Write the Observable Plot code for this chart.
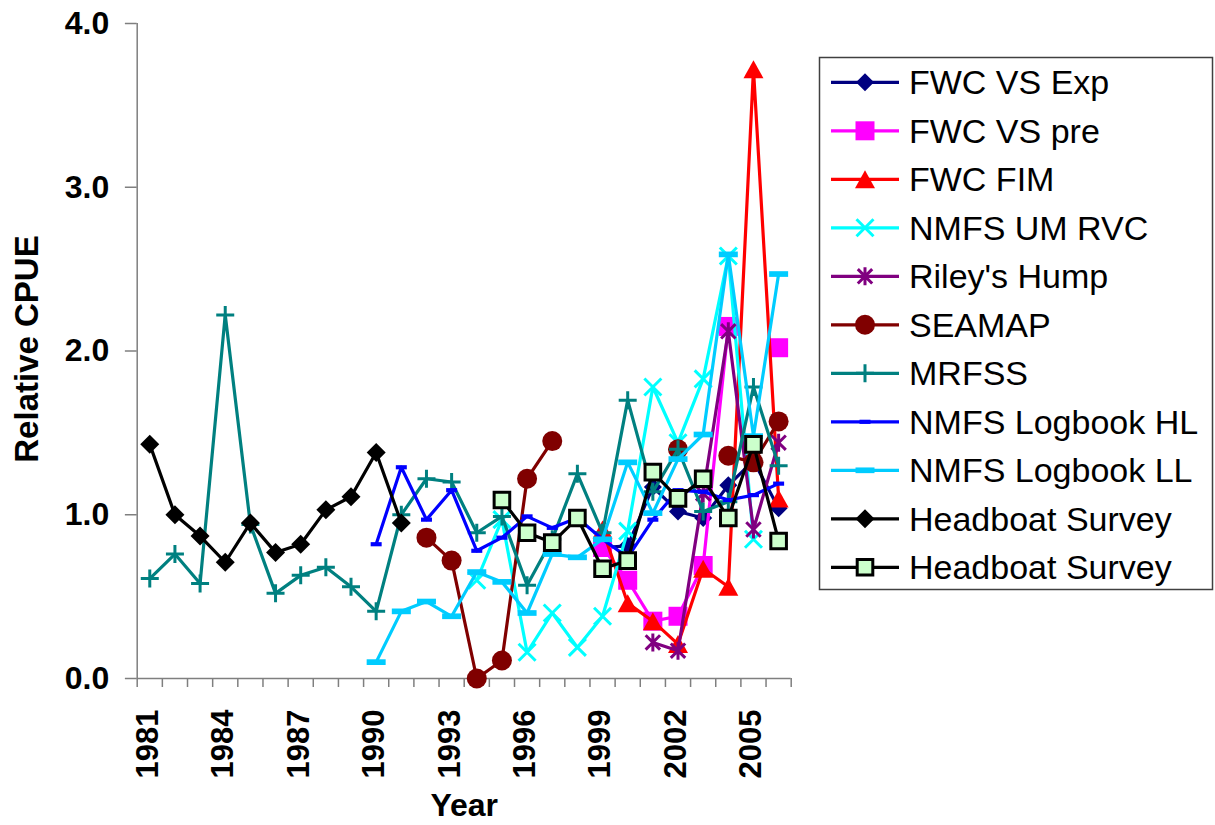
<!DOCTYPE html>
<html><head><meta charset="utf-8">
<script src="https://cdn.jsdelivr.net/npm/d3@7"></script>
<script src="https://cdn.jsdelivr.net/npm/@observablehq/plot@0.6"></script>
<style>body{margin:0;background:#fff} svg{display:block}</style>
</head><body><div id="chart"></div>
<script>
const years = [1981,1982,1983,1984,1985,1986,1987,1988,1989,1990,1991,1992,1993,1994,1995,1996,1997,1998,1999,2000,2001,2002,2003,2004,2005,2006];
const yearLabels = [1981,1984,1987,1990,1993,1996,1999,2002,2005];
const yTicks = [0,1,2,3,4];
const seriesNames = ["FWC VS Exp","FWC VS pre","FWC FIM","NMFS UM RVC","Riley's Hump","SEAMAP","MRFSS","NMFS Logbook HL","NMFS Logbook LL","Headboat Survey","Headboat Survey"];
const N = null;
const fwcVsExp = [N,N,N,N,N,N,N,N,N,N,N,N,N,N,N,N,N,N,0.80,0.81,1.17,1.02,0.98,1.18,1.33,1.04];
const fwcVsPre = [N,N,N,N,N,N,N,N,N,N,N,N,N,N,N,N,N,N,0.80,0.60,0.35,0.38,0.69,2.15,N,2.02];
const fwcFim   = [N,N,N,N,N,N,N,N,N,N,N,N,N,N,N,N,N,N,0.91,0.46,0.35,0.21,0.67,0.56,3.72,1.10];
const nmfsRvc  = [N,N,N,N,N,N,N,N,N,N,N,N,N,0.60,0.97,0.16,0.40,0.19,0.38,0.90,1.78,1.44,1.83,2.58,0.85,N];
const rileys   = [N,N,N,N,N,N,N,N,N,N,N,N,N,N,N,N,N,N,N,N,0.22,0.17,1.13,2.12,0.91,1.44];
const seamap   = [N,N,N,N,N,N,N,N,N,N,N,0.86,0.72,0.00,0.11,1.22,1.45,N,N,N,N,1.40,N,1.36,1.32,1.57];
const mrfss    = [0.61,0.76,0.58,2.22,0.94,0.52,0.63,0.68,0.56,0.41,1.00,1.22,1.20,0.89,0.99,0.57,0.85,1.25,0.89,1.70,1.14,1.40,1.02,1.08,1.78,1.30];
const logHL    = [N,N,N,N,N,N,N,N,N,0.82,1.29,0.97,1.15,0.78,0.86,0.99,0.92,0.98,0.85,0.74,0.97,1.15,1.14,1.09,1.12,1.19];
const logLL    = [N,N,N,N,N,N,N,N,N,0.10,0.41,0.47,0.38,0.65,0.59,0.40,0.76,0.74,0.85,1.32,1.01,1.34,1.49,2.59,1.48,2.47];
const headboat = [1.43,1.00,0.87,0.71,0.95,0.77,0.82,1.03,1.11,1.38,0.95,N,N,N,N,N,N,N,N,N,N,N,N,N,N,N];
const headboat2= [N,N,N,N,N,N,N,N,N,N,N,N,N,N,1.09,0.89,0.83,0.98,0.67,0.72,1.26,1.10,1.22,0.98,1.43,0.84];

// custom marker shapes (size = pi*r^2)
function sym(fn){ return {draw(c, size){ const r = Math.sqrt(size/Math.PI); fn(c, r); }}; }
const diamondSym = sym((c,r)=>{c.moveTo(0,-r);c.lineTo(r,0);c.lineTo(0,r);c.lineTo(-r,0);c.closePath();});
const squareSym = sym((c,r)=>{c.moveTo(-r,-r);c.lineTo(r,-r);c.lineTo(r,r);c.lineTo(-r,r);c.closePath();});
const triangleSym = sym((c,r)=>{c.moveTo(0,-0.9*r);c.lineTo(r,0.9*r);c.lineTo(-r,0.9*r);c.closePath();});
const timesSym = sym((c,r)=>{c.moveTo(-r,-r);c.lineTo(r,r);c.moveTo(r,-r);c.lineTo(-r,r);});
const asteriskSym = sym((c,r)=>{const a=r*0.8;c.moveTo(-a,-a);c.lineTo(a,a);c.moveTo(a,-a);c.lineTo(-a,a);c.moveTo(0,-r);c.lineTo(0,r);});
const plusSym = sym((c,r)=>{c.moveTo(-r,0);c.lineTo(r,0);c.moveTo(0,-r);c.lineTo(0,r);});
const circleSym = sym((c,r)=>{c.moveTo(r,0);c.arc(0,0,r,0,2*Math.PI);c.closePath();});
const dashSym = (k)=>sym((c,r)=>{const h=r*k;c.moveTo(-r,-h);c.lineTo(r,-h);c.lineTo(r,h);c.lineTo(-r,h);c.closePath();});

const values = [fwcVsExp,fwcVsPre,fwcFim,nmfsRvc,rileys,seamap,mrfss,logHL,logLL,headboat,headboat2];
const styles = [
  {color:"#000080", symbol:diamondSym, r:9, fill:"#000080", stroke:"none", sw:0},
  {color:"#ff00ff", symbol:squareSym, r:9.5, fill:"#ff00ff", stroke:"none", sw:0},
  {color:"#ff0000", symbol:triangleSym, r:10, fill:"#ff0000", stroke:"none", sw:0},
  {color:"#00ffff", symbol:timesSym, r:8.5, fill:"none", stroke:"#00ffff", sw:3},
  {color:"#800080", symbol:asteriskSym, r:9, fill:"none", stroke:"#800080", sw:3},
  {color:"#800000", symbol:circleSym, r:10, fill:"#800000", stroke:"none", sw:0},
  {color:"#008080", symbol:plusSym, r:9, fill:"none", stroke:"#008080", sw:3},
  {color:"#0000ff", symbol:dashSym(0.38), r:5.5, fill:"#0000ff", stroke:"none", sw:0},
  {color:"#00ccff", symbol:dashSym(0.3), r:9.5, fill:"#00ccff", stroke:"none", sw:0},
  {color:"#000000", symbol:diamondSym, r:9.5, fill:"#000000", stroke:"none", sw:0},
  {color:"#000000", symbol:squareSym, r:7.8, fill:"#ccffcc", stroke:"#000000", sw:3}
];

const tables = values.map(v => years.map((yr,i)=>({year:yr, value:v[i]})));
const boundaries = d3.range(1980.5, 2007, 1);
const axisColor = "#7f7f7f";

const seriesMarks = [];
tables.forEach((t,i)=>{
  const s = styles[i];
  seriesMarks.push(Plot.line(t, {x:"year", y:"value", stroke:s.color, strokeWidth:3.2}));
  seriesMarks.push(Plot.dot(t, {x:"year", y:"value", symbol:s.symbol, r:s.r, fill:s.fill, stroke:s.stroke, strokeWidth:s.sw}));
});

const plot = Plot.plot({
  width:1215, height:825,
  marginLeft:136.7, marginRight:424.3, marginTop:23, marginBottom:147,
  x:{type:"linear", domain:[1980.5,2006.5], axis:null},
  y:{type:"linear", domain:[0,4], axis:null},
  style:{fontFamily:"'Liberation Sans', Arial, sans-serif", background:"white", color:"black"},
  marks:[
    Plot.ruleX(boundaries, {y1:0, y2:-0.055, stroke:axisColor, strokeWidth:1.5}),
    Plot.ruleY(yTicks, {x1:1980.5, x2:1980.03, stroke:axisColor, strokeWidth:1.5}),
    Plot.ruleX([1980.5], {y1:0, y2:4, stroke:axisColor, strokeWidth:1.5}),
    Plot.ruleY([0], {stroke:axisColor, strokeWidth:1.5}),
    Plot.text(yTicks, {x:1980.5, y:d=>d, text:d=>d.toFixed(1), textAnchor:"end", dx:-28, fontSize:32, fontWeight:"bold"}),
    Plot.text(yearLabels, {x:d=>d, y:0, text:d=>String(d), rotate:-90, textAnchor:"end", lineAnchor:"middle", dy:31, dx:-2, fontSize:31, fontWeight:"bold"}),
    Plot.text(["Relative CPUE"], {frameAnchor:"left", text:d=>d, rotate:-90, textAnchor:"middle", lineAnchor:"middle", dx:-110, dy:-2, fontSize:33, fontWeight:"bold"}),
    Plot.text(["Year"], {frameAnchor:"bottom", text:d=>d, textAnchor:"middle", lineAnchor:"middle", dy:127, fontSize:32, fontWeight:"bold"}),
    ...seriesMarks
  ]
});
document.getElementById("chart").appendChild(plot);

// legend
const svg = d3.select(plot);
const lg = svg.append("g").attr("font-family","'Liberation Sans', Arial, sans-serif").attr("text-anchor","start");
lg.append("rect").attr("x",819.5).attr("y",57.5).attr("width",393).attr("height",532)
  .attr("fill","white").attr("stroke","#404040").attr("stroke-width",1.5);
seriesNames.forEach((name,i)=>{
  const s = styles[i];
  const y = 82.3 + i*48.5;
  lg.append("line").attr("x1",831).attr("x2",899).attr("y1",y).attr("y2",y)
    .attr("stroke",s.color).attr("stroke-width",3.2);
  lg.append("path").attr("d", d3.symbol(s.symbol, Math.PI*s.r*s.r)())
    .attr("transform",`translate(865,${y})`)
    .attr("fill",s.fill).attr("stroke",s.stroke).attr("stroke-width",s.sw);
  lg.append("text").attr("x",909).attr("y",y+12).attr("font-size",34).attr("fill","black")
    .attr("text-anchor","start").text(name);
});
</script></body></html>
